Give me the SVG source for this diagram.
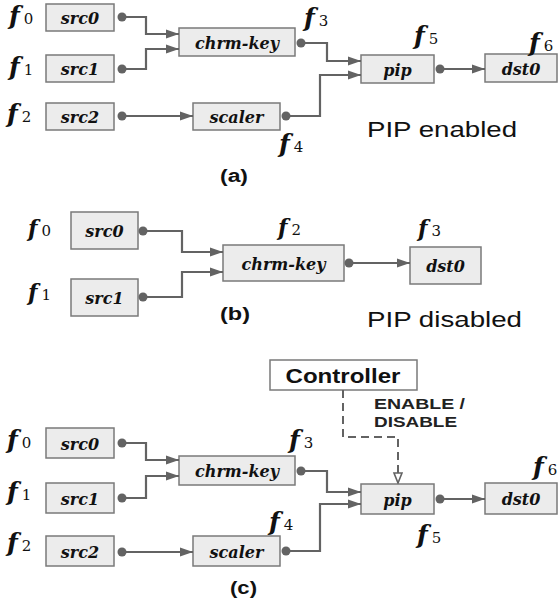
<svg xmlns="http://www.w3.org/2000/svg" width="558" height="599" viewBox="0 0 558 599">
<style>
.box{fill:#ececec;stroke:#7a7a7a;stroke-width:1.5}
.ctl{fill:#fff;stroke:#7a7a7a;stroke-width:1.5}
.lbl{font-family:"DejaVu Serif",serif;font-weight:bold;font-style:italic;font-size:16px;fill:#111;text-anchor:middle;dominant-baseline:central}
.f{font-family:"DejaVu Serif",serif;font-weight:bold;font-style:italic;font-size:25px;fill:#111}
.fs{font-family:"DejaVu Serif",serif;font-weight:normal;font-style:normal;font-size:15px}
.fb{font-size:22px}
.cap{font-family:"Liberation Sans",Arial,sans-serif;font-weight:bold;font-size:18px;fill:#111}
.state{font-family:"Liberation Sans",Arial,sans-serif;font-size:22px;fill:#111}
.en{font-family:"Liberation Sans",Arial,sans-serif;font-weight:bold;font-size:15px;fill:#222}
.ctt{font-family:"Liberation Sans",Arial,sans-serif;font-weight:bold;font-size:21px;fill:#111;text-anchor:middle}
.c{fill:none;stroke:#636363;stroke-width:2.2;marker-end:url(#arr)}
.d{fill:#636363}
.dash{fill:none;stroke:#636363;stroke-width:2;stroke-dasharray:8 5;marker-end:url(#oarr)}
</style>
<defs>
<marker id="arr" markerUnits="userSpaceOnUse" markerWidth="14" markerHeight="10" refX="13" refY="5" orient="auto">
<path d="M0,0.5 L13,5 L0,9.5 Z" fill="#636363"/>
</marker>
<marker id="oarr" markerUnits="userSpaceOnUse" markerWidth="12" markerHeight="12" refX="11" refY="5" orient="auto">
<path d="M1,1 L11,5 L1,9 Z" fill="#fff" stroke="#636363" stroke-width="1.6"/>
</marker>
</defs>

<!-- ===== Panel (a) ===== -->
<g id="a-src0"><rect class="box" x="46" y="4" width="68" height="27"/><text class="lbl" x="80" y="18">src0</text></g>
<g id="a-src1"><rect class="box" x="46" y="55" width="68" height="27"/><text class="lbl" x="80" y="69">src1</text></g>
<g id="a-src2"><rect class="box" x="46" y="103" width="68" height="27"/><text class="lbl" x="80" y="117">src2</text></g>
<g id="a-chrm"><rect class="box" x="179" y="28" width="116" height="28"/><text class="lbl" x="237" y="43">chrm-key</text></g>
<g id="a-scaler"><rect class="box" x="193" y="103" width="87" height="27"/><text class="lbl" x="236.5" y="117">scaler</text></g>
<g id="a-pip"><rect class="box" x="361" y="55" width="73" height="28"/><text class="lbl" x="397.5" y="70">pip</text></g>
<g id="a-dst0"><rect class="box" x="485" y="54" width="72" height="28"/><text class="lbl" x="521" y="69">dst0</text></g>
<g id="a-connectors">
<path class="c" d="M122 17 H146 V34 H179"/>
<path class="c" d="M122 69 H146 V49 H179"/>
<path class="c" d="M122 116 H193"/>
<path class="c" d="M301 43 H327 V61 H361"/>
<path class="c" d="M286 116 H320 V75 H361"/>
<path class="c" d="M440 69 H485"/>
<circle class="d" cx="122" cy="17" r="4.5"/><circle class="d" cx="122" cy="69" r="4.5"/><circle class="d" cx="122" cy="116" r="4.5"/>
<circle class="d" cx="301" cy="43" r="4.5"/><circle class="d" cx="286" cy="116" r="4.5"/><circle class="d" cx="440" cy="69" r="4.5"/>
</g>
<g id="a-labels">
<text class="f" x="9" y="24">f<tspan class="fs" dx="4">0</tspan></text>
<text class="f" x="9" y="75">f<tspan class="fs" dx="4">1</tspan></text>
<text class="f" x="7" y="122">f<tspan class="fs" dx="4">2</tspan></text>
<text class="f" x="304" y="26">f<tspan class="fs" dx="4">3</tspan></text>
<text class="f" x="279" y="152">f<tspan class="fs" dx="4">4</tspan></text>
<text class="f" x="414" y="44">f<tspan class="fs" dx="4">5</tspan></text>
<text class="f" x="529" y="51">f<tspan class="fs" dx="4">6</tspan></text>
<text class="state" x="367" y="137" textLength="150" lengthAdjust="spacingAndGlyphs">PIP enabled</text>
<text class="cap" x="220" y="182" textLength="28" lengthAdjust="spacingAndGlyphs">(a)</text>
</g>

<!-- ===== Panel (b) ===== -->
<g id="b-src0"><rect class="box" x="71" y="212" width="67" height="37"/><text class="lbl" x="104.5" y="231">src0</text></g>
<g id="b-src1"><rect class="box" x="71" y="279" width="67" height="37"/><text class="lbl" x="104.5" y="298">src1</text></g>
<g id="b-chrm"><rect class="box" x="223" y="245" width="121" height="36"/><text class="lbl" x="283.5" y="264">chrm-key</text></g>
<g id="b-dst0"><rect class="box" x="410" y="247" width="71" height="37"/><text class="lbl" x="445.5" y="266">dst0</text></g>
<g id="b-connectors">
<path class="c" d="M143 231 H182 V252 H223"/>
<path class="c" d="M143 297 H182 V272 H223"/>
<path class="c" d="M349 263 H410"/>
<circle class="d" cx="143" cy="231" r="4.5"/><circle class="d" cx="143" cy="297" r="4.5"/><circle class="d" cx="349" cy="263" r="4.5"/>
</g>
<g id="b-labels">
<text class="f fb" x="28" y="236">f<tspan class="fs" dx="4">0</tspan></text>
<text class="f fb" x="28" y="300">f<tspan class="fs" dx="4">1</tspan></text>
<text class="f fb" x="278" y="235">f<tspan class="fs" dx="4">2</tspan></text>
<text class="f fb" x="418" y="236">f<tspan class="fs" dx="4">3</tspan></text>
<text class="state" x="367" y="327" textLength="155" lengthAdjust="spacingAndGlyphs">PIP disabled</text>
<text class="cap" x="220" y="320" textLength="30" lengthAdjust="spacingAndGlyphs">(b)</text>
</g>

<!-- ===== Panel (c) ===== -->
<g id="c-controller"><rect class="ctl" x="270" y="360" width="147" height="30"/><text class="ctt" x="343" y="383" textLength="115" lengthAdjust="spacingAndGlyphs">Controller</text></g>
<g id="c-src0"><rect class="box" x="46" y="428" width="68" height="30"/><text class="lbl" x="80" y="444">src0</text></g>
<g id="c-src1"><rect class="box" x="46" y="483" width="68" height="30"/><text class="lbl" x="80" y="499">src1</text></g>
<g id="c-src2"><rect class="box" x="46" y="536" width="68" height="30"/><text class="lbl" x="80" y="552">src2</text></g>
<g id="c-chrm"><rect class="box" x="179" y="456" width="116" height="29"/><text class="lbl" x="237" y="471.5">chrm-key</text></g>
<g id="c-scaler"><rect class="box" x="193" y="536" width="87" height="30"/><text class="lbl" x="236.5" y="552">scaler</text></g>
<g id="c-pip"><rect class="box" x="361" y="484" width="73" height="30"/><text class="lbl" x="397.5" y="500">pip</text></g>
<g id="c-dst0"><rect class="box" x="485" y="483" width="72" height="31"/><text class="lbl" x="521" y="499.5">dst0</text></g>
<g id="c-connectors">
<path class="dash" d="M343 390 V437 H398 V483"/>
<path class="c" d="M122 443 H146 V460 H179"/>
<path class="c" d="M122 498 H146 V476 H179"/>
<path class="c" d="M122 552 H193"/>
<path class="c" d="M301 471 H327 V492 H361"/>
<path class="c" d="M286 551 H320 V504 H361"/>
<path class="c" d="M440 499 H485"/>
<circle class="d" cx="122" cy="443" r="4.5"/><circle class="d" cx="122" cy="498" r="4.5"/><circle class="d" cx="122" cy="552" r="4.5"/>
<circle class="d" cx="301" cy="471" r="4.5"/><circle class="d" cx="286" cy="551" r="4.5"/><circle class="d" cx="440" cy="499" r="4.5"/>
</g>
<g id="c-labels">
<text class="en" x="374" y="409" textLength="91" lengthAdjust="spacingAndGlyphs">ENABLE /</text>
<text class="en" x="374" y="427" textLength="83" lengthAdjust="spacingAndGlyphs">DISABLE</text>
<text class="f" x="7" y="448">f<tspan class="fs" dx="4">0</tspan></text>
<text class="f" x="7" y="500">f<tspan class="fs" dx="4">1</tspan></text>
<text class="f" x="7" y="551">f<tspan class="fs" dx="4">2</tspan></text>
<text class="f" x="289" y="448">f<tspan class="fs" dx="4">3</tspan></text>
<text class="f" x="269" y="530">f<tspan class="fs" dx="4">4</tspan></text>
<text class="f" x="417" y="543">f<tspan class="fs" dx="4">5</tspan></text>
<text class="f" x="533" y="475">f<tspan class="fs" dx="4">6</tspan></text>
<text class="cap" x="230" y="594" textLength="27" lengthAdjust="spacingAndGlyphs">(c)</text>
</g>
</svg>
